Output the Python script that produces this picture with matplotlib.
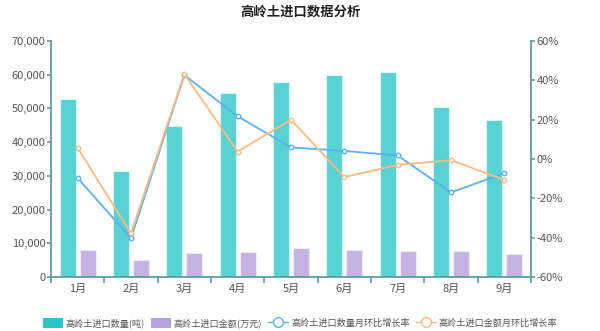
import matplotlib.pyplot as plt
import matplotlib.ticker as mticker
from matplotlib.patches import Patch
from matplotlib.lines import Line2D
import numpy as np

plt.rcParams['font.family'] = ['Noto Sans CJK SC', 'DejaVu Sans']

# monthly kaolin import data
months = ["1月", "2月", "3月", "4月", "5月", "6月", "7月", "8月", "9月"]
quantity = [52700, 31400, 44800, 54500, 57700, 59800, 60700, 50300, 46600]   # 吨
amount = [7900, 4900, 7000, 7300, 8700, 7900, 7700, 7600, 6800]              # 万元
qty_growth = [-9.7, -40.3, 42.7, 21.7, 5.9, 4.1, 1.8, -17.0, -7.2]            # %
amt_growth = [5.6, -37.8, 43.2, 3.8, 20.0, -9.2, -3.0, -0.6, -10.6]          # %

teal = "#2ec7c9"
purple = "#b6a2de"
blue = "#5ab1ef"
orange = "#ffb980"
axis_col = "#5d9ca6"
text_col = "#555555"

fig = plt.figure(figsize=(6, 3.31), dpi=100)
ax = fig.add_axes([51 / 600, 54 / 331, 480 / 600, 236 / 331])
ax2 = ax.twinx()

x = np.arange(len(months))
w = 0.3
ax.bar(x - 0.1875, quantity, w, color=teal, alpha=0.8, edgecolor="#e6fafa", linewidth=0.8, zorder=2)
ax.bar(x + 0.1875, amount, w, color=purple, alpha=0.8, edgecolor="#f3effa", linewidth=0.8, zorder=2)

ax2.plot(x, qty_growth, color=blue, lw=1.3, marker="o", ms=3.2, mfc="white", mec=blue, mew=1.0, zorder=3)
ax2.plot(x, amt_growth, color=orange, lw=1.3, marker="o", ms=3.2, mfc="white", mec=orange, mew=1.0, zorder=3)

ax.set_xlim(-0.5, len(months) - 0.5)
ax.set_ylim(0, 70000)
ax2.set_ylim(-60, 60)
ax.set_yticks(np.arange(0, 70001, 10000))
ax.yaxis.set_major_formatter(mticker.FuncFormatter(lambda v, p: f"{int(v):,}"))
ax2.set_yticks(np.arange(-60, 61, 20))
ax2.yaxis.set_major_formatter(mticker.FuncFormatter(lambda v, p: f"{int(v)}%"))

ax.set_xticks(x)
ax.set_xticklabels(months)
ax.set_xticks(np.arange(-0.5, len(months), 1), minor=True)
ax.tick_params(axis="x", which="major", length=0, pad=5, labelsize=8, labelcolor=text_col)
ax.tick_params(axis="x", which="minor", length=4, color=axis_col, width=1.2)
ax.tick_params(axis="y", length=3, color=axis_col, width=1.2, labelsize=8, labelcolor=text_col, pad=1)
ax2.tick_params(axis="y", length=3, color=axis_col, width=1.2, labelsize=8, labelcolor=text_col, pad=1)

for a in (ax, ax2):
    a.spines["top"].set_visible(False)
    for side in ("left", "right", "bottom"):
        a.spines[side].set_color(axis_col)
        a.spines[side].set_linewidth(1.3)
ax.spines["right"].set_visible(False)
ax2.spines["left"].set_visible(False)
ax2.spines["bottom"].set_visible(False)

fig.text(0.5, 1 - 12 / 331, "高岭土进口数据分析", ha="center", va="center",
         fontsize=9.6, fontweight="bold", color="#222222")

handles = [
    Patch(facecolor=teal, edgecolor="none"),
    Patch(facecolor=purple, edgecolor="none"),
    Line2D([], [], color=blue, lw=1, marker="o", ms=7, mfc="white", mec=blue, mew=1),
    Line2D([], [], color=orange, lw=1, marker="o", ms=7, mfc="white", mec=orange, mew=1),
]
labels = ["高岭土进口数量(吨)", "高岭土进口金额(万元)", "高岭土进口数量月环比增长率", "高岭土进口金额月环比增长率"]
fig.legend(handles, labels, loc="center", bbox_to_anchor=(0.5, 1 - 323 / 331), ncol=4,
           frameon=False, fontsize=6.6, handlelength=2.2, handleheight=1.4,
           handletextpad=0.3, columnspacing=0.65, labelcolor=text_col)

fig.savefig("out.png", dpi=100)
